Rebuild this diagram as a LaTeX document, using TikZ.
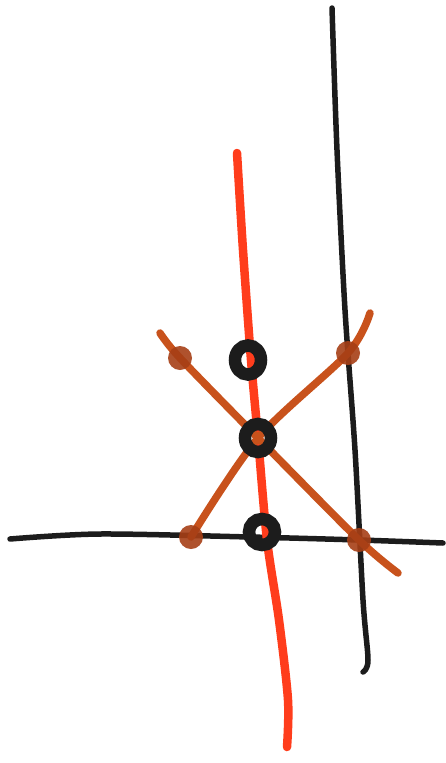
\documentclass[tikz,border=0pt]{standalone}
\usepackage{xcolor}
\usepackage{tikz}
\usetikzlibrary{positioning}

\definecolor{penred}{HTML}{FF3D1C}
\definecolor{penbrown}{HTML}{C8521C}
\definecolor{dotbrown}{HTML}{A63F16}
\definecolor{penblack}{HTML}{1C1C1C}

\begin{document}
\begin{tikzpicture}[
  x=1pt, y=-1pt,
  blackline/.style={penblack, line width=5.5pt, line cap=round, line join=round},
  redline/.style={penred, line width=8.5pt, line cap=round, line join=round},
  brownline/.style={penbrown, line width=7.5pt, line cap=round, line join=round},
  hit/.style={circle, fill=dotbrown, opacity=0.9, minimum size=24pt, inner sep=0pt},
  ring/.style={circle, draw=penblack, line width=12.5pt, minimum size=26pt, inner sep=0pt}]
  \useasboundingbox (0,0) rectangle (446,763);
  % crossing points
  \coordinate (ul) at (180,358);
  \coordinate (ur) at (348,353);
  \coordinate (ll) at (191,537);
  \coordinate (lr) at (359,540);
  \coordinate (mid) at (258,438);
  % black lines
  \draw[blackline] plot[smooth] coordinates {(332,8) (337,150) (345,310) (355,450) (363,600) (368,660) (363,672)};
  \draw[blackline] plot[smooth] coordinates {(10,539) (100,534) (250,537) (lr) (443,543)};
  % red line
  \draw[redline] plot[smooth] coordinates {(237,153) (243,250) (251,360) (mid) (267,540) (279,620) (288,700) (287,747)};
  % brown cross
  \draw[brownline] plot[smooth, tension=0.5] coordinates {(160,333) (ul) (mid) (lr) (398,573)};
  \draw[brownline] plot[smooth, tension=0.5] coordinates {(370,313) (ur) (mid) (ll)};
  % marks
  \node[hit] (dul) at (ul) {};
  \node[hit] (dur) at (ur) {};
  \node[hit] (dll) at (ll) {};
  \node[hit] (dlr) at (lr) {};
  \node[ring, yscale=1.12] (r1) at (248,360) {};
  \node[ring, yscale=1.08] (r2) at (mid) {};
  \node[ring] (r3) at (262,532) {};
\end{tikzpicture}
\end{document}
